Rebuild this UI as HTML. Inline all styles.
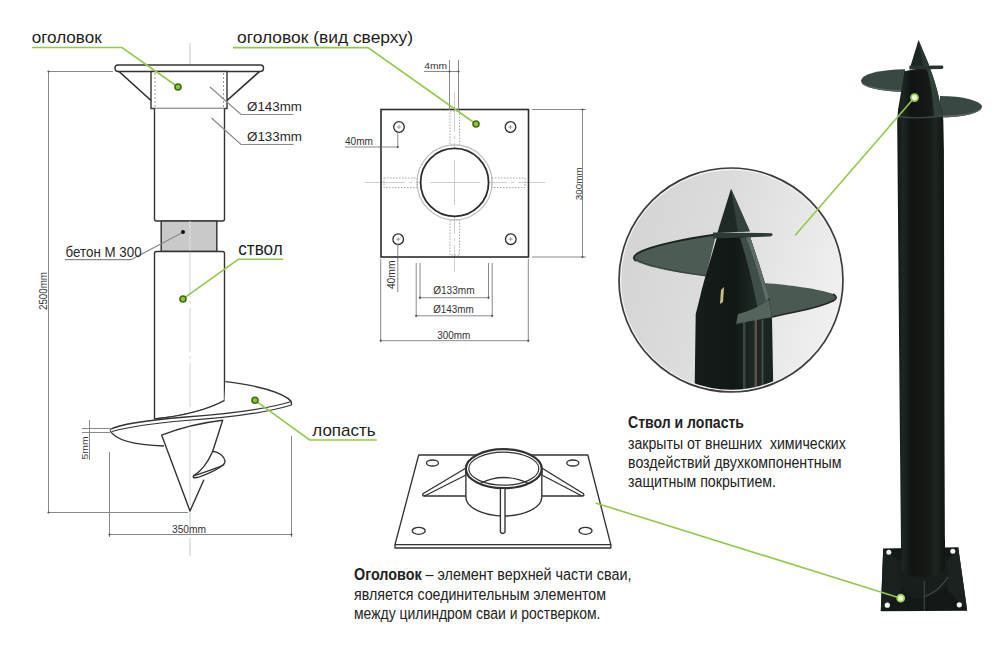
<!DOCTYPE html>
<html><head><meta charset="utf-8">
<style>
html,body{margin:0;padding:0;background:#fff;}
body{width:1000px;height:666px;overflow:hidden;}
svg{display:block;font-family:"Liberation Sans",sans-serif;}
</style></head>
<body>
<svg width="1000" height="666" viewBox="0 0 1000 666">
<defs>
  <linearGradient id="lens" x1="0" y1="0.35" x2="1" y2="0.65">
    <stop offset="0" stop-color="#d4d4d4"/>
    <stop offset="0.4" stop-color="#dcdcdc"/>
    <stop offset="0.75" stop-color="#e8e8e8"/>
    <stop offset="1" stop-color="#f1f1f1"/>
  </linearGradient>
  <linearGradient id="pole" gradientUnits="userSpaceOnUse" x1="897" y1="0" x2="945" y2="0">
    <stop offset="0" stop-color="#111613"/>
    <stop offset="0.12" stop-color="#1e2622"/>
    <stop offset="0.3" stop-color="#101412"/>
    <stop offset="0.65" stop-color="#141916"/>
    <stop offset="0.8" stop-color="#1d2521"/>
    <stop offset="1" stop-color="#101412"/>
  </linearGradient>
  <linearGradient id="blade" x1="0" y1="0" x2="0" y2="1">
    <stop offset="0" stop-color="#2b3a34"/>
    <stop offset="1" stop-color="#44534c"/>
  </linearGradient>
  <linearGradient id="lenspole" x1="0" y1="0" x2="1" y2="0">
    <stop offset="0" stop-color="#161d1a"/>
    <stop offset="0.5" stop-color="#111714"/>
    <stop offset="0.75" stop-color="#1d2824"/>
    <stop offset="1" stop-color="#19221f"/>
  </linearGradient>
  <clipPath id="lensclip"><circle cx="731" cy="280" r="112"/></clipPath>
</defs>

<!-- ============ LEFT ELEVATION ============ -->
<g id="left">
  <!-- centre line -->
  <line x1="190" y1="43" x2="190" y2="556" stroke="#c9c9c9" stroke-width="1" stroke-dasharray="44 4 3 4"/>
  <!-- 2500 dimension -->
  <g stroke="#8a8a8a" stroke-width="1" fill="none">
    <line x1="48.5" y1="71.5" x2="48.5" y2="512.5"/>
    <line x1="48" y1="71.5" x2="113" y2="71.5"/>
    <line x1="48" y1="512.5" x2="188" y2="512.5"/>
    <!-- 350 dimension -->
    <line x1="109.5" y1="452" x2="109.5" y2="537"/>
    <line x1="291.5" y1="436" x2="291.5" y2="537"/>
    <line x1="109" y1="534.5" x2="292" y2="534.5"/>
    <!-- 5mm -->
    <line x1="82" y1="428.5" x2="110" y2="428.5"/>
    <line x1="82" y1="432.5" x2="110" y2="432.5"/>
    <line x1="89.5" y1="420" x2="89.5" y2="460"/>
  </g>
  <text x="0" y="0" font-size="10" fill="#333" transform="translate(46.5,310) rotate(-90)" textLength="38" lengthAdjust="spacingAndGlyphs">2500mm</text>
  <text x="172" y="532.5" font-size="10" fill="#333" textLength="34" lengthAdjust="spacingAndGlyphs">350mm</text>
  <text x="0" y="0" font-size="9" fill="#333" transform="translate(88,459.4) rotate(-90)" textLength="23" lengthAdjust="spacingAndGlyphs">5mm</text>

  <!-- cap plate -->
  <rect x="115" y="65" width="148.5" height="6.5" rx="3" fill="#fff" stroke="#333" stroke-width="1.4"/>
  <!-- sleeve -->
  <rect x="151" y="71.5" width="76" height="37" fill="#fff" stroke="#333" stroke-width="1.4"/>
  <g stroke="#9a9a9a" stroke-width="1" stroke-dasharray="2 2">
    <line x1="155" y1="73" x2="155" y2="107"/>
    <line x1="223.5" y1="73" x2="223.5" y2="107"/>
  </g>
  <!-- gussets -->
  <g stroke="#2b2b2b" stroke-width="1.6">
    <line x1="119" y1="71.5" x2="151" y2="100.5"/>
    <line x1="259.5" y1="71.5" x2="227" y2="100.5"/>
  </g>
  <!-- upper pipe -->
  <path d="M154.5 108.5 V219 Q154.5 221 156.5 221 H222.5 Q224.5 221 224.5 219 V108.5" fill="#fff" stroke="#333" stroke-width="1.4"/>
  <!-- concrete -->
  <rect x="161.2" y="221" width="55.6" height="30.5" fill="#c9c9c9" stroke="#3a3a3a" stroke-width="1.5"/>
  <line x1="190" y1="221" x2="190" y2="251" stroke="#dedede" stroke-width="1"/>
  <!-- lower pipe -->
  <path d="M154.5 419 V253.5 Q154.5 251.5 156.5 251.5 H222.5 Q224.5 251.5 224.5 253.5 V400.5 Q200 414 154.5 419 Z" fill="#fff" stroke="#333" stroke-width="1.4"/>
  <line x1="190" y1="253" x2="190" y2="410" stroke="#d0d0d0" stroke-width="1" stroke-dasharray="44 4 3 4"/>

  <!-- helical blade: upper right lobe -->
  <path d="M225.3 381.6 C255 385 283 392 291.3 401.5 L291.5 405 C270 412 230 417 186 419.5 C150 422 120 426 110 430.5 C111 427 125 423 150 420 L154.5 419 Q200 414 224.5 400.5 Z" fill="#fff" stroke="none"/>
  <path d="M225.3 381.6 C255 385 283 392 291.3 401.5" fill="none" stroke="#333" stroke-width="1.4"/>
  <path d="M291.3 401.5 C265 410 225 414 186 417 C150 420 120 424 110 429.5" fill="none" stroke="#333" stroke-width="1.3"/>
  <path d="M291.5 405 C265 413 225 418 186 420.5 C155 423 128 427 112 431.5" fill="none" stroke="#333" stroke-width="1.2"/>
  <line x1="291.3" y1="401.5" x2="291.5" y2="405" stroke="#333" stroke-width="1.3"/>
  <path d="M224.5 400.5 Q200 414 154.5 419" fill="none" stroke="#333" stroke-width="1.4"/>
  <!-- lower-left lobe -->
  <path d="M110 430.5 C115 440 135 445 164 446" fill="none" stroke="#333" stroke-width="1.4"/>
  <!-- cone tip -->
  <path d="M161.6 435.1 Q190 424 222.7 420.2 L212.7 451.3 L225 461 L203.7 480.2 L190 511 Z" fill="#fff" stroke="none"/>
  <line x1="190" y1="430" x2="190" y2="505" stroke="#d0d0d0" stroke-width="1"/>
  <g fill="none" stroke="#333" stroke-width="1.4" stroke-linejoin="round" stroke-linecap="round">
    <path d="M203.7 480.2 L190 511 L161.6 435.1 Q190 424 222.7 420.2 L212.7 451.3 C209 460 203 470 193.8 475.7"/>
    <path d="M212.7 451.3 C219 452 224 456 225.1 461.2 C225 465 215 471 199.5 476.9 C196 478 192.5 478.3 193.3 476.3"/>
    <path d="M194 475.8 C205 472 217 468 223.8 464.8" stroke-width="1.3"/>
  </g>
  <!-- leader lines for diameters -->
  <g stroke="#8a8a8a" stroke-width="1.2" fill="none">
    <polyline points="210,87 241,114.5 293.5,114.5"/>
    <polyline points="211.5,118 241,144.5 293.5,144.5"/>
    <polyline points="183.5,232 131,259.7 65,259.7"/>
  </g>
  <text x="247" y="111.3" font-size="13.5" fill="#2a2a2a" textLength="55" lengthAdjust="spacingAndGlyphs">Ø143mm</text>
  <text x="247" y="141" font-size="13.5" fill="#2a2a2a" textLength="55" lengthAdjust="spacingAndGlyphs">Ø133mm</text>
  <text x="65.6" y="256.5" font-size="14" fill="#2a2a2a" textLength="76" lengthAdjust="spacingAndGlyphs">бетон М 300</text>
  <circle cx="183" cy="232" r="2" fill="#111"/>
</g>

<!-- ============ TOP VIEW ============ -->
<g id="top">
  <!-- centre lines -->
  <g stroke="#cfcfcf" stroke-width="1" stroke-dasharray="40 4 3 4">
    <line x1="365" y1="182.5" x2="545" y2="182.5"/>
    <line x1="454.5" y1="92" x2="454.5" y2="272"/>
  </g>
  <!-- plate -->
  <rect x="381" y="109.5" width="147.5" height="147.5" fill="none" stroke="#2b2b2b" stroke-width="1.6"/>
  <!-- gussets (dotted) -->
  <g stroke="#a8a8a8" stroke-width="1" fill="none" stroke-dasharray="1.5 1.5">
    <rect x="450" y="111" width="9.5" height="34"/>
    <rect x="450" y="220" width="9.5" height="35"/>
    <rect x="384" y="178" width="33" height="9.5"/>
    <rect x="492" y="178" width="33" height="9.5"/>
  </g>
  <!-- circles -->
  <circle cx="454.6" cy="182.4" r="37.5" fill="none" stroke="#bdbdbd" stroke-width="1.2"/>
  <circle cx="454.6" cy="182.4" r="34" fill="#fff" stroke="#2b2b2b" stroke-width="1.8"/>
  <g stroke="#cfcfcf" stroke-width="1">
    <line x1="430" y1="182.5" x2="480" y2="182.5"/>
    <line x1="454.5" y1="160" x2="454.5" y2="205"/>
  </g>
  <!-- holes -->
  <g fill="#fff" stroke="#2b2b2b" stroke-width="1.3">
    <circle cx="399" cy="127" r="5.3"/>
    <circle cx="510.5" cy="127" r="5.3"/>
    <circle cx="398.2" cy="239.2" r="5.3"/>
    <circle cx="510.8" cy="239.2" r="5.3"/>
  </g>
  <g stroke="#888" stroke-width="0.8">
    <line x1="397" y1="127" x2="401" y2="127"/><line x1="399" y1="125" x2="399" y2="129"/>
    <line x1="508.5" y1="127" x2="512.5" y2="127"/><line x1="510.5" y1="125" x2="510.5" y2="129"/>
    <line x1="396.2" y1="239.2" x2="400.2" y2="239.2"/><line x1="398.2" y1="237.2" x2="398.2" y2="241.2"/>
    <line x1="508.8" y1="239.2" x2="512.8" y2="239.2"/><line x1="510.8" y1="237.2" x2="510.8" y2="241.2"/>
  </g>
  <!-- dimensions -->
  <g stroke="#8a8a8a" stroke-width="1" fill="none">
    <!-- 4mm -->
    <line x1="449.5" y1="60" x2="449.5" y2="110"/>
    <line x1="458.5" y1="60" x2="458.5" y2="110"/>
    <line x1="424" y1="71.5" x2="459" y2="71.5"/>
    <!-- 40mm left -->
    <polyline points="345,147 397.8,147 397.8,132"/>
    <!-- 300 right -->
    <line x1="532" y1="109.5" x2="586" y2="109.5"/>
    <line x1="532" y1="257" x2="586" y2="257"/>
    <line x1="582.5" y1="109" x2="582.5" y2="257.5"/>
    <!-- 40mm bottom -->
    <line x1="397.8" y1="244" x2="397.8" y2="292"/>
    <!-- 133 -->
    <line x1="420" y1="263" x2="420" y2="299"/>
    <line x1="488.5" y1="263" x2="488.5" y2="299"/>
    <line x1="419.5" y1="297.7" x2="489" y2="297.7"/>
    <!-- 143 -->
    <line x1="416.2" y1="263" x2="416.2" y2="317"/>
    <line x1="492.2" y1="263" x2="492.2" y2="317"/>
    <line x1="415.7" y1="315.8" x2="492.7" y2="315.8"/>
    <!-- 300 bottom -->
    <line x1="380.7" y1="259" x2="380.7" y2="342"/>
    <line x1="528.3" y1="259" x2="528.3" y2="342"/>
    <line x1="380.2" y1="340.7" x2="528.8" y2="340.7"/>
  </g>
  <g fill="#333" font-size="10">
    <text x="424.2" y="69" font-size="8.5" textLength="22.8" lengthAdjust="spacingAndGlyphs">4mm</text>
    <text x="345" y="144.5" textLength="28" lengthAdjust="spacingAndGlyphs">40mm</text>
    <text transform="translate(582.2,200.3) rotate(-90)" font-size="9" textLength="33" lengthAdjust="spacingAndGlyphs">300mm</text>
    <text transform="translate(394.8,289.1) rotate(-90)" textLength="28.6" lengthAdjust="spacingAndGlyphs">40mm</text>
    <text x="433.2" y="293.9" textLength="41.4" lengthAdjust="spacingAndGlyphs">Ø133mm</text>
    <text x="433.2" y="312.9" textLength="40.5" lengthAdjust="spacingAndGlyphs">Ø143mm</text>
    <text x="437.2" y="338.7" textLength="33.1" lengthAdjust="spacingAndGlyphs">300mm</text>
  </g>
</g>

<!-- ============ PERSPECTIVE HEAD ============ -->
<g id="persp" stroke="#333" fill="#fff" stroke-width="1.35" stroke-linejoin="round">
  <path d="M418.7 455 H587.8 L610.8 544.6 H395 Z"/>
  <path d="M395 544.6 V548 H610.8 V544.6" fill="none"/>
  <!-- holes -->
  <ellipse cx="432.5" cy="463" rx="6" ry="3"/>
  <ellipse cx="572.8" cy="463" rx="6" ry="3"/>
  <ellipse cx="418.7" cy="530.8" rx="6.5" ry="3.5"/>
  <ellipse cx="585.5" cy="530.8" rx="6.5" ry="3.5"/>
  <!-- side gussets -->
  <path d="M466 468 L423.3 493.5 Q421.5 496 424.5 496 L466 475 Z"/>
  <path d="M541.8 468 L583.2 493.5 Q585 496 582 496 L541.8 475 Z"/>
  <line x1="424" y1="496" x2="466" y2="496" stroke-width="1.3"/>
  <line x1="541.8" y1="496" x2="582" y2="496" stroke-width="1.3"/>
  <!-- cylinder -->
  <path d="M465.9 468.7 V497 A37.95 19 0 0 0 541.8 497 V468.7 Z"/>
  <ellipse cx="503.8" cy="468.7" rx="37.95" ry="19.5" stroke-width="2.2"/>
  <ellipse cx="503.8" cy="468.7" rx="35" ry="16.5" stroke-width="1.2"/>
  <path d="M480.8 483 Q503.8 472 527.5 483" fill="none" stroke-width="1.3"/>
  <!-- front gusset -->
  <path d="M500.4 489 V532 Q502.7 535 505 532 V489" />
</g>

<!-- ============ TEXT BLOCKS ============ -->
<g font-size="16" fill="#222">
  <text x="354" y="580.1" textLength="277.4" lengthAdjust="spacingAndGlyphs"><tspan font-weight="bold">Оголовок</tspan> – элемент верхней части сваи,</text>
  <text x="354" y="599.8" textLength="252" lengthAdjust="spacingAndGlyphs">является соединительным элементом</text>
  <text x="354" y="619.2" textLength="246.4" lengthAdjust="spacingAndGlyphs">между цилиндром сваи и ростверком.</text>
  <text x="628" y="428.1" font-size="16" font-weight="bold" textLength="116" lengthAdjust="spacingAndGlyphs">Ствол и лопасть</text>
  <text x="628" y="448.7" font-size="16" style="white-space:pre" textLength="217.8" lengthAdjust="spacingAndGlyphs">закрыты от внешних  химических</text>
  <text x="628" y="468" font-size="16" textLength="213.5" lengthAdjust="spacingAndGlyphs">воздействий двухкомпонентным</text>
  <text x="628" y="487.4" font-size="16" textLength="148" lengthAdjust="spacingAndGlyphs">защитным покрытием.</text>
</g>

<!-- ============ PHOTO: POLE ============ -->
<g id="photo">
  <!-- left upper blade -->
  <path d="M905 69.3 A44 11.3 0 0 0 905 91.9 Z" fill="#3a4843"/>
  <path d="M861 81.5 A44 10.4 0 0 0 905 91.9 L905 90 A44 9.5 0 0 1 861 81.5 Z" fill="#5a6761"/>
  <!-- right blade -->
  <path d="M940 96 A42 10.8 0 0 1 940 117.6 Z" fill="#3a4843"/>
  <path d="M981.5 107.5 A42 10.2 0 0 1 940 117.6 L940 115.6 A42 9 0 0 0 981.5 107.5 Z" fill="#5a6761"/>
  <!-- pole body -->
  <path d="M904.5 71.3 C902 85 900 100 898 110 L897.2 122 L899.7 415 L901.3 575 L945 575 L944.4 415 L943.9 150 L943.3 120 C942.5 112 941.5 108 940.8 107.6 C939 95 934 78 929.2 66.5 Z" fill="url(#pole)"/>
  <!-- right facet highlight of nose -->
  <path d="M929.2 66.5 C934 78 939 95 940.8 107.6 L943 117 L934 116 C933 100 931 80 926 68 Z" fill="#33413b"/>
  <!-- cone tip -->
  <path d="M918.5 39.9 L910.3 66.7 L929.2 65.5 Z" fill="#1d2622"/>
  <path d="M918.5 39.9 L923 66 L929.2 65.5 Z" fill="#2b3732"/>
  <!-- flange -->
  <path d="M909.4 65.8 L942.5 65.5 Q944.5 67.5 942 69 L909.4 69.6 Z" fill="#28332e"/>
  <!-- seam ring -->
  <path d="M897.5 116.5 Q920 119.5 942.8 115.8" fill="none" stroke="#3c4944" stroke-width="1.4"/>
  <!-- base plate -->
  <path d="M883.2 548.5 L958.2 547.3 L967.2 610.8 L880.8 611.2 Z" fill="#141917"/>
  <path d="M883.2 548.5 L905 565 L902 590 L880.8 611.2 Z" fill="#1a201d"/>
  <path d="M958.2 547.3 L944 565 L948 590 L967.2 610.8 Z" fill="#1b221f"/>
  <!-- sleeve -->
  <path d="M898.5 560 Q897 590 913 598 Q930 601 946 586 Q950 570 946 555 Z" fill="#181e1b"/>
  <path d="M925.5 596.5 Q940 590 948 577" fill="none" stroke="#3f4b47" stroke-width="1.3"/>
  <line x1="924.3" y1="581" x2="924.3" y2="611" stroke="#49534f" stroke-width="0.9"/>
  <!-- pole bottom (rounded) -->
  <path d="M901.5 540 L901.5 568 Q903 576 915 576.5 L935 576.5 Q945 575 945 566 L945 540 Z" fill="url(#pole)"/>
  <g fill="#f4f4f4">
    <circle cx="888.8" cy="552.3" r="2.5"/>
    <circle cx="952.8" cy="551.2" r="2.5"/>
    <circle cx="887.3" cy="605.2" r="2.6"/>
    <circle cx="959.3" cy="604.8" r="2.6"/>
  </g>
</g>

<!-- ============ LENS CIRCLE ============ -->
<g id="lensg">
  <circle cx="731" cy="280" r="112" fill="url(#lens)"/>
  <g clip-path="url(#lensclip)">
    <!-- left blade -->
    <path d="M716 234.5 C690 238 652 245 638 253 Q631 257.5 636 261 C645 266 665 271 706 276.5 Z" fill="#4d5b55"/>
    <path d="M716 234.5 C690 238 652 245 638 253 Q631 257.5 636 261" fill="none" stroke="#1c2420" stroke-width="1.8"/>
    <path d="M634 258.5 C645 265 670 271 706 275.5" fill="none" stroke="#36423d" stroke-width="1.2"/>
    <!-- right blade -->
    <path d="M764 283 C790 285 820 289 833 294 Q839 297.5 834 300.5 C825 305 815 308 795 312 C780 315 772 317 765 318.5 Z" fill="#4b5953"/>
    <path d="M833 294 Q839 297.5 834 300.5 C825 305 815 308 795 312 C780 315 772 317 765 318.5" fill="none" stroke="#1f2824" stroke-width="1.5"/>
    <!-- pole body -->
    <path d="M717.3 236 C712 255 704 280 700.5 295 L695.7 314.2 L694.5 400 L773.5 400 L772 318 L769 297.4 C763 275 755 252 749.8 236 Z" fill="url(#lenspole)"/>
    <!-- right facet highlight -->
    <path d="M749.8 236 C755 252 763 275 769 297.4 L766 306 L758 310 C754 290 748 262 740 238 Z" fill="#3f4e48"/>
    <path d="M749.8 236 C755 252 763 275 769 297.4 L766 302 C761 280 754 258 746 237 Z" fill="#5e6d67"/>
    <!-- blade front strip -->
    <path d="M769 300 L772 318 C760 320 748 322 736 324.5 L738 314 C750 311 760 306 769 300 Z" fill="#56645e"/>
    <path d="M772 318 C760 320 748 322 736 324.5" fill="none" stroke="#1f2824" stroke-width="1.3"/>
    <!-- cone -->
    <path d="M731 188.7 L717.3 233 L749.8 231.3 Z" fill="#1f2925"/>
    <path d="M731 188.7 L738 232 L749.8 231.3 Z" fill="#34423c"/>
    <!-- flange -->
    <path d="M713 232.5 L771.9 233.2 Q774 235.5 770 236.5 L713 238.5 Z" fill="#2e3a35"/>
    <!-- specular -->
    <path d="M721 290 L724 287 L723 302 L720 304 Z" fill="#c9c27a"/>
    <rect x="743" y="322" width="2.5" height="78" fill="#45524c" opacity="0.8"/>
    <rect x="754.5" y="320" width="2.5" height="80" fill="#6b5a55" opacity="0.8"/>
    <rect x="761.5" y="320" width="2" height="80" fill="#4d5b55" opacity="0.8"/>
  </g>
  <circle cx="731" cy="280" r="110.6" fill="none" stroke="#f2f2f2" stroke-width="1.6"/>
  <circle cx="731" cy="280" r="112" fill="none" stroke="#3c3c3c" stroke-width="1.7"/>
</g>

<g fill="#555">
  <circle cx="48.5" cy="71.5" r="1.1"/>
  <circle cx="48.5" cy="512.5" r="1.1"/>
  <circle cx="109.5" cy="534.5" r="1.1"/>
  <circle cx="291.5" cy="534.5" r="1.1"/>
  <circle cx="582.5" cy="109.5" r="1.1"/>
  <circle cx="582.5" cy="257" r="1.1"/>
  <circle cx="380.7" cy="340.7" r="1.1"/>
  <circle cx="528.3" cy="340.7" r="1.1"/>
  <circle cx="420" cy="297.7" r="1.1"/>
  <circle cx="488.5" cy="297.7" r="1.1"/>
  <circle cx="416.2" cy="315.8" r="1.1"/>
  <circle cx="492.2" cy="315.8" r="1.1"/>
  <circle cx="449.5" cy="71.5" r="1.1"/>
  <circle cx="458.5" cy="71.5" r="1.1"/>
  <circle cx="380.7" cy="147" r="1.1"/>
  <circle cx="397.8" cy="147" r="1.1"/>
  <circle cx="397.8" cy="257" r="1.1"/>
</g>

<!-- ============ GREEN LABELS ============ -->
<g stroke="#93c84a" stroke-width="1.6" fill="none">
  <polyline points="32,47.5 122,47.5 178,87"/>
  <polyline points="233,47.6 368,47.6 476,124"/>
  <polyline points="283,259.3 238.3,259.3 183,298.9"/>
  <polyline points="255,400.3 309.6,440 376.8,440"/>
  <line x1="914.5" y1="97.6" x2="795" y2="235.5"/>
  <line x1="595.6" y1="503" x2="900.7" y2="598.2"/>
</g>
<g fill="#8cc43a" stroke="#3f6e0c" stroke-width="1.6">
  <circle cx="178" cy="87" r="3"/>
  <circle cx="476" cy="124" r="3"/>
  <circle cx="183" cy="299" r="3"/>
  <circle cx="255" cy="400.3" r="3"/>
</g>
<g fill="#f2f7e6" stroke="#9bcc4f" stroke-width="1.8">
  <circle cx="914.5" cy="97.6" r="3.5"/>
  <circle cx="900.7" cy="598.2" r="3.5"/>
</g>
<g font-size="17" fill="#1e1e1e">
  <text x="31.7" y="43.3" textLength="70" lengthAdjust="spacingAndGlyphs">оголовок</text>
  <text x="237" y="42.5" textLength="176" lengthAdjust="spacingAndGlyphs">оголовок (вид сверху)</text>
  <text x="238.3" y="255" font-size="18.5" textLength="44.3" lengthAdjust="spacingAndGlyphs">ствол</text>
  <text x="312.3" y="436" textLength="63.4" lengthAdjust="spacingAndGlyphs">лопасть</text>
</g>

</svg>
</body></html>
